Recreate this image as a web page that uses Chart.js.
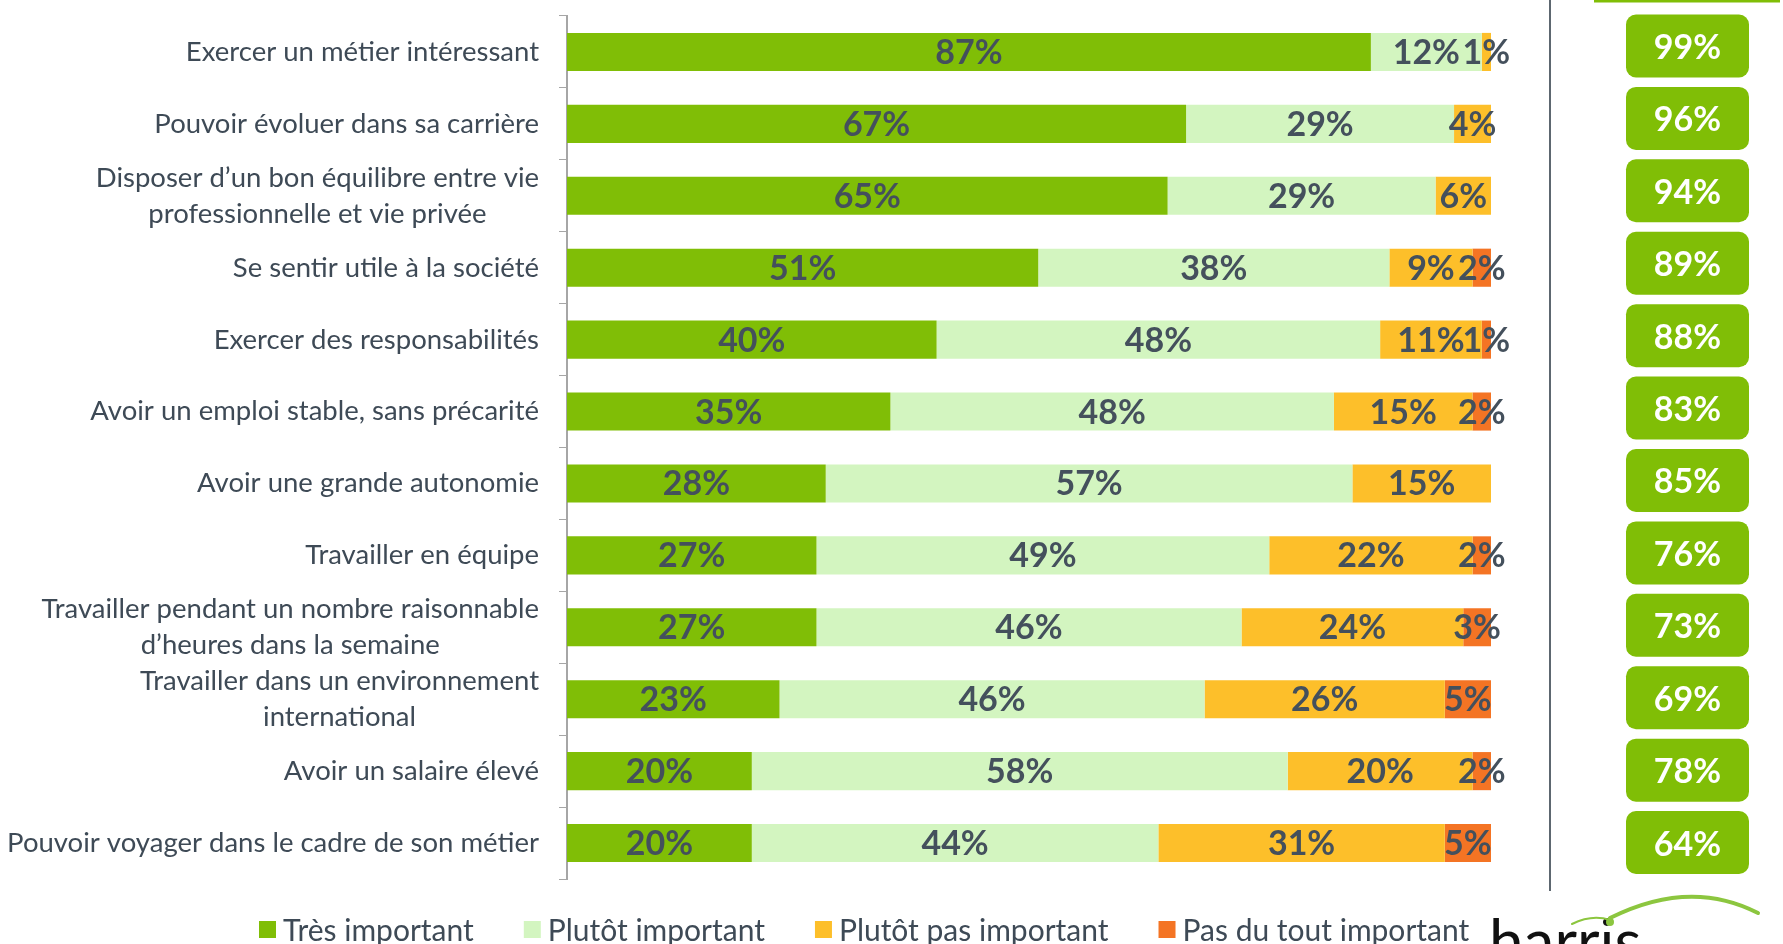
<!DOCTYPE html>
<html>
<head>
<meta charset="utf-8">
<script src="https://cdn.jsdelivr.net/npm/chart.js@4.4.1/dist/chart.umd.min.js"></script>
<style>
  html, body { margin: 0; padding: 0; background: #fff; overflow: hidden; }
  canvas { display: block; }
</style>
</head>
<body>
<canvas id="chart" width="1783" height="944"></canvas>
<script>
var categories = [
  "Exercer un métier intéressant",
  "Pouvoir évoluer dans sa carrière",
  ["Disposer d’un bon équilibre entre vie", "professionnelle et vie privée"],
  "Se sentir utile à la société",
  "Exercer des responsabilités",
  "Avoir un emploi stable, sans précarité",
  "Avoir une grande autonomie",
  "Travailler en équipe",
  ["Travailler pendant un nombre raisonnable", "d’heures dans la semaine"],
  ["Travailler dans un environnement", "international"],
  "Avoir un salaire élevé",
  "Pouvoir voyager dans le cadre de son métier"
];

var seriesNames = ["Très important", "Plutôt important", "Plutôt pas important", "Pas du tout important"];
var tresImportant = [87, 67, 65, 51, 40, 35, 28, 27, 27, 23, 20, 20];
var plutotImportant = [12, 29, 29, 38, 48, 48, 57, 49, 46, 46, 58, 44];
var plutotPas = [1, 4, 6, 9, 11, 15, 15, 22, 24, 26, 20, 31];
var pasDuTout = [0, 0, 0, 2, 1, 2, 0, 2, 3, 5, 2, 5];
var totals = [99, 96, 94, 89, 88, 83, 85, 76, 73, 69, 78, 64];

var colors = ["#80be06", "#d3f5c0", "#fdbf2a", "#f47424"];
var textColor = "#3e4a56";
var FONT = "Lato, 'Open Sans', sans-serif";

function makeDataset(i, values) {

  return {
    label: seriesNames[i],
    data: values,
    backgroundColor: colors[i],
    borderWidth: 0,
    barPercentage: 0.53,
    categoryPercentage: 1
  };
}

// percentages inside the bars
var valueLabels = {
  id: "valueLabels",
  afterDatasetsDraw: function(chart) {

    var ctx = chart.ctx;
    ctx.save();
    ctx.font = "bold 34px " + FONT;
    ctx.fillStyle = "#44505c";
    ctx.textAlign = "center";
    ctx.textBaseline = "middle";
    chart.data.datasets.forEach(function(ds, d) {
      var meta = chart.getDatasetMeta(d);
      meta.data.forEach(function(bar, i) {
        var v = ds.data[i];
        if (!v) return;
        var p = bar.getCenterPoint();
        ctx.fillText(v + "%", p.x, p.y + 1);
      });
    });
    ctx.restore();
  }
};

// category labels, totals column, legend, logo
var extras = {
  id: "extras",
  afterDraw: function(chart) {

    var ctx = chart.ctx;
    var area = chart.chartArea;
    var yScale = chart.scales.y;
    ctx.save();

    // category labels: block right aligned, lines centered in block
    ctx.font = "27.5px " + FONT;
    ctx.fillStyle = textColor;
    ctx.textBaseline = "middle";
    ctx.textAlign = "center";
    var right = area.left - 28;
    categories.forEach(function(lab, i) {
      var y = yScale.getPixelForValue(i);
      var lines = Array.isArray(lab) ? lab : [lab];
      var w = 0;
      lines.forEach(function(l) { w = Math.max(w, ctx.measureText(l).width); });
      var cx = right - w / 2;
      var lh = 36;
      var y0 = y - (lines.length - 1) * lh / 2;
      lines.forEach(function(l, k) {
        ctx.fillText(l, cx, y0 + k * lh);
      });
    });

    // separator line
    var sepX = area.right + 59;
    ctx.strokeStyle = "#5d6770";
    ctx.lineWidth = 2;
    ctx.beginPath();
    ctx.moveTo(sepX, 0);
    ctx.lineTo(sepX, area.bottom + 12);
    ctx.stroke();

    // top header line
    ctx.strokeStyle = colors[0];
    ctx.lineWidth = 3;
    ctx.beginPath();
    ctx.moveTo(area.right + 103, 1);
    ctx.lineTo(area.right + 289, 1);
    ctx.stroke();

    // totals boxes
    ctx.font = "bold 34px " + FONT;
    ctx.textAlign = "center";
    totals.forEach(function(t, i) {
      var y = yScale.getPixelForValue(i) - 6 + i * 0.5;
      var bx = area.right + 135;
      var bw = 123, bh = 63;
      ctx.fillStyle = colors[0];
      ctx.beginPath();
      ctx.roundRect(bx, y - bh / 2, bw, bh, 10);
      ctx.fill();
      ctx.fillStyle = "#ffffff";
      ctx.fillText(t + "%", bx + bw / 2, y + 2);
    });

    // legend
    ctx.font = "30px " + FONT;
    ctx.textAlign = "left";
    ctx.textBaseline = "alphabetic";
    var lx = 259;
    chart.data.datasets.forEach(function(ds) {
      ctx.fillStyle = ds.backgroundColor;
      ctx.fillRect(lx, 921, 17, 17);
      ctx.fillStyle = textColor;
      ctx.fillText(ds.label, lx + 24, 941);
      lx += 24 + ctx.measureText(ds.label).width + 50;
    });

    // harris logo
    ctx.fillStyle = "#111111";
    ctx.font = "62px Lato, sans-serif";
    ctx.fillText("harris", 1489, 964);
    ctx.strokeStyle = "#8cc63f";
    ctx.lineCap = "round";
    ctx.lineWidth = 2;
    ctx.beginPath();
    ctx.moveTo(1572, 924);
    ctx.quadraticCurveTo(1592, 914, 1610, 920);
    ctx.stroke();
    ctx.lineWidth = 4;
    ctx.beginPath();
    ctx.moveTo(1610, 918);
    ctx.quadraticCurveTo(1690, 878, 1758, 913);
    ctx.stroke();
    ctx.fillStyle = "#8cc63f";
    ctx.beginPath();
    ctx.arc(1610, 922, 4, 0, Math.PI * 2);
    ctx.fill();

    ctx.restore();
  }
};

function init() {

  var ctx = document.getElementById("chart").getContext("2d");
  var chart = new Chart(ctx, {

    type: "bar",

    data: {
      labels: categories,
      datasets: [
        makeDataset(0, tresImportant),
        makeDataset(1, plutotImportant),
        makeDataset(2, plutotPas),
        makeDataset(3, pasDuTout)
      ]
    },

    options: {
      indexAxis: "y",
      responsive: false,
      animation: false,
      layout: { padding: { left: 0, top: 16, right: 292, bottom: 65 } },
      plugins: {
        legend: { display: false },
        tooltip: { enabled: false }
      },
      scales: {
        x: {
          stacked: true,
          display: false,
          min: 0,
          max: 100
        },
        y: {
          stacked: true,
          ticks: { display: false },
          grid: {
            offset: true,
            drawOnChartArea: false,
            tickLength: 8,
            color: "#a6a6a6"
          },
          border: { display: true, color: "#a6a6a6", width: 2 },
          afterFit: function(scale) {
            scale.width = 567;
          }
        }
      }
    },

    plugins: [valueLabels, extras]
  });
}

init();
</script>
</body>
</html>
